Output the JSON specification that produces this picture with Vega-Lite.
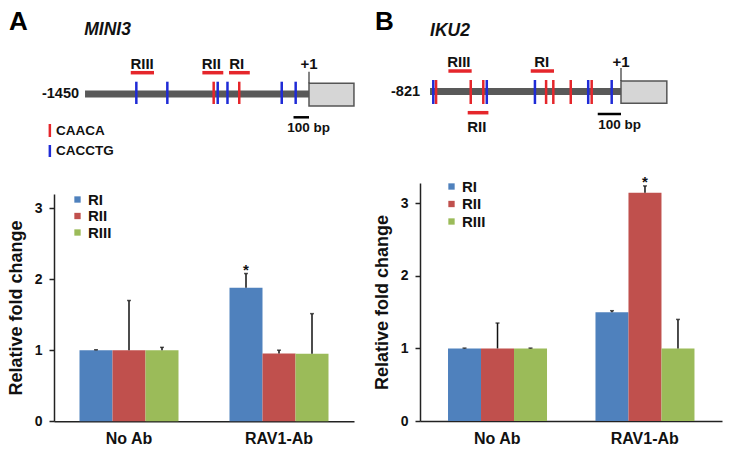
{
  "$schema": "https://vega.github.io/schema/vega-lite/v6.json",
  "background": "white",
  "padding": {"left": 7, "top": 0, "right": 5, "bottom": 5},
  "spacing": 18,
  "config": {
    "view": {"stroke": null},
    "font": "Liberation Sans",
    "text": {"font": "Liberation Sans", "fontWeight": "bold", "color": "#111"},
    "axis": {"labelFont": "Liberation Sans", "titleFont": "Liberation Sans", "grid": false}
  },
  "resolve": {"scale": {"color": "independent"}, "legend": {"color": "independent"}},
  "hconcat": [
    {
      "spacing": 0,
      "bounds": "flush",
      "vconcat": [
        {
          "width": 300,
          "height": 194,
          "layer": [
            {
              "data": {"values": [{"bp": -1445, "bp2": 0}]},
              "mark": {"type": "rule", "strokeWidth": 7, "color": "#595959"},
              "encoding": {
                "x": {"field": "bp", "type": "quantitative", "scale": {"domain": [-1645.2, 290.3], "nice": false, "zero": false}, "axis": null},
                "x2": {"field": "bp2"},
                "y": {"datum": 94, "type": "quantitative", "scale": {"domain": [0, 194], "reverse": true, "nice": false, "zero": false}, "axis": null}
              }
            },
            {
              "data": {"values": [{"bp": 0, "bp2": 290}]},
              "mark": {"type": "rect", "fill": "#d6d6d6", "stroke": "#555555", "strokeWidth": 1.5},
              "encoding": {
                "x": {"field": "bp", "type": "quantitative", "scale": {"domain": [-1645.2, 290.3], "nice": false, "zero": false}, "axis": null},
                "x2": {"field": "bp2"},
                "y": {"datum": 83.3, "type": "quantitative", "scale": {"domain": [0, 194], "reverse": true, "nice": false, "zero": false}, "axis": null},
                "y2": {"datum": 106}
              }
            },
            {
              "data": {"values": [{"bp": 0}]},
              "mark": {"type": "rule", "strokeWidth": 1.2, "color": "#333333"},
              "encoding": {
                "x": {"field": "bp", "type": "quantitative", "scale": {"domain": [-1645.2, 290.3], "nice": false, "zero": false}, "axis": null},
                "y": {"datum": 71.7, "type": "quantitative", "scale": {"domain": [0, 194], "reverse": true, "nice": false, "zero": false}, "axis": null},
                "y2": {"datum": 83.3}
              }
            },
            {
              "data": {"values": [
                {"bp": -1114, "motif": "CACCTG"}, {"bp": -914, "motif": "CACCTG"}, {"bp": -589, "motif": "CACCTG"},
                {"bp": -526, "motif": "CACCTG"}, {"bp": -176, "motif": "CACCTG"}, {"bp": -86, "motif": "CACCTG"},
                {"bp": -615, "motif": "CAACA"}, {"bp": -450, "motif": "CAACA"}
              ]},
              "transform": [{"filter": "datum.motif === 'CACCTG'"}],
              "mark": {"type": "rule", "strokeWidth": 2.5, "color": "#1f2bd6"},
              "encoding": {
                "x": {"field": "bp", "type": "quantitative", "scale": {"domain": [-1645.2, 290.3], "nice": false, "zero": false}, "axis": null},
                "y": {"datum": 81.7, "type": "quantitative", "scale": {"domain": [0, 194], "reverse": true, "nice": false, "zero": false}, "axis": null},
                "y2": {"datum": 104}
              }
            },
            {
              "data": {"values": [
                {"bp": -1114, "motif": "CACCTG"}, {"bp": -914, "motif": "CACCTG"}, {"bp": -589, "motif": "CACCTG"},
                {"bp": -526, "motif": "CACCTG"}, {"bp": -176, "motif": "CACCTG"}, {"bp": -86, "motif": "CACCTG"},
                {"bp": -615, "motif": "CAACA"}, {"bp": -450, "motif": "CAACA"}
              ]},
              "transform": [{"filter": "datum.motif === 'CAACA'"}],
              "mark": {"type": "rule", "strokeWidth": 2.5, "color": "#e5262b"},
              "encoding": {
                "x": {"field": "bp", "type": "quantitative", "scale": {"domain": [-1645.2, 290.3], "nice": false, "zero": false}, "axis": null},
                "y": {"datum": 81.7, "type": "quantitative", "scale": {"domain": [0, 194], "reverse": true, "nice": false, "zero": false}, "axis": null},
                "y2": {"datum": 104}
              }
            },
            {
              "data": {"values": [
                {"region": "RIII", "bp": -1150, "bp2": -1000},
                {"region": "RII", "bp": -688, "bp2": -553},
                {"region": "RI", "bp": -516, "bp2": -382}
              ]},
              "mark": {"type": "rule", "strokeWidth": 3.5, "color": "#e5262b"},
              "encoding": {
                "x": {"field": "bp", "type": "quantitative", "scale": {"domain": [-1645.2, 290.3], "nice": false, "zero": false}, "axis": null},
                "x2": {"field": "bp2"},
                "y": {"datum": 72.7, "type": "quantitative", "scale": {"domain": [0, 194], "reverse": true, "nice": false, "zero": false}, "axis": null}
              }
            },
            {
              "data": {"values": [
                {"label": "RIII", "bp": -1077},
                {"label": "RII", "bp": -630},
                {"label": "RI", "bp": -466},
                {"label": "+1", "bp": 0}
              ]},
              "mark": {"type": "text", "fontSize": 15, "baseline": "middle", "align": "center"},
              "encoding": {
                "x": {"field": "bp", "type": "quantitative", "scale": {"domain": [-1645.2, 290.3], "nice": false, "zero": false}, "axis": null},
                "y": {"datum": 63.5, "type": "quantitative", "scale": {"domain": [0, 194], "reverse": true, "nice": false, "zero": false}, "axis": null},
                "text": {"field": "label"}
              }
            },
            {
              "data": {"values": [{"label": "-1450", "bp": -1445}]},
              "mark": {"type": "text", "fontSize": 14.5, "baseline": "middle", "align": "right", "dx": -6},
              "encoding": {
                "x": {"field": "bp", "type": "quantitative", "scale": {"domain": [-1645.2, 290.3], "nice": false, "zero": false}, "axis": null},
                "y": {"datum": 94, "type": "quantitative", "scale": {"domain": [0, 194], "reverse": true, "nice": false, "zero": false}, "axis": null},
                "text": {"field": "label"}
              }
            },
            {
              "data": {"values": [{"label": "MINI3", "bp": -1450}]},
              "mark": {"type": "text", "fontSize": 17.5, "fontStyle": "italic", "baseline": "middle", "align": "left"},
              "encoding": {
                "x": {"field": "bp", "type": "quantitative", "scale": {"domain": [-1645.2, 290.3], "nice": false, "zero": false}, "axis": null},
                "y": {"datum": 30, "type": "quantitative", "scale": {"domain": [0, 194], "reverse": true, "nice": false, "zero": false}, "axis": null},
                "text": {"field": "label"}
              }
            },
            {
              "data": {"values": [{"label": "A", "bp": -1935}]},
              "mark": {"type": "text", "fontSize": 26, "baseline": "middle", "align": "left", "color": "#000"},
              "encoding": {
                "x": {"field": "bp", "type": "quantitative", "scale": {"domain": [-1645.2, 290.3], "nice": false, "zero": false}, "axis": null},
                "y": {"datum": 22, "type": "quantitative", "scale": {"domain": [0, 194], "reverse": true, "nice": false, "zero": false}, "axis": null},
                "text": {"field": "label"}
              }
            },
            {
              "data": {"values": [{"bp": -100, "bp2": 0}]},
              "mark": {"type": "rule", "strokeWidth": 2.5, "color": "#000"},
              "encoding": {
                "x": {"field": "bp", "type": "quantitative", "scale": {"domain": [-1645.2, 290.3], "nice": false, "zero": false}, "axis": null},
                "x2": {"field": "bp2"},
                "y": {"datum": 117.3, "type": "quantitative", "scale": {"domain": [0, 194], "reverse": true, "nice": false, "zero": false}, "axis": null}
              }
            },
            {
              "data": {"values": [{"label": "100 bp", "bp": -140}]},
              "mark": {"type": "text", "fontSize": 13.5, "baseline": "middle", "align": "left"},
              "encoding": {
                "x": {"field": "bp", "type": "quantitative", "scale": {"domain": [-1645.2, 290.3], "nice": false, "zero": false}, "axis": null},
                "y": {"datum": 128, "type": "quantitative", "scale": {"domain": [0, 194], "reverse": true, "nice": false, "zero": false}, "axis": null},
                "text": {"field": "label"}
              }
            },
            {
              "data": {"values": [{"bp": -1672}]},
              "mark": {"type": "rule", "strokeWidth": 2.5, "color": "#e5262b"},
              "encoding": {
                "x": {"field": "bp", "type": "quantitative", "scale": {"domain": [-1645.2, 290.3], "nice": false, "zero": false}, "axis": null},
                "y": {"datum": 124, "type": "quantitative", "scale": {"domain": [0, 194], "reverse": true, "nice": false, "zero": false}, "axis": null},
                "y2": {"datum": 137}
              }
            },
            {
              "data": {"values": [{"bp": -1672}]},
              "mark": {"type": "rule", "strokeWidth": 2.5, "color": "#1f2bd6"},
              "encoding": {
                "x": {"field": "bp", "type": "quantitative", "scale": {"domain": [-1645.2, 290.3], "nice": false, "zero": false}, "axis": null},
                "y": {"datum": 145, "type": "quantitative", "scale": {"domain": [0, 194], "reverse": true, "nice": false, "zero": false}, "axis": null},
                "y2": {"datum": 157}
              }
            },
            {
              "data": {"values": [{"label": "CAACA", "bp": -1632}]},
              "mark": {"type": "text", "fontSize": 13.5, "baseline": "middle", "align": "left"},
              "encoding": {
                "x": {"field": "bp", "type": "quantitative", "scale": {"domain": [-1645.2, 290.3], "nice": false, "zero": false}, "axis": null},
                "y": {"datum": 131, "type": "quantitative", "scale": {"domain": [0, 194], "reverse": true, "nice": false, "zero": false}, "axis": null},
                "text": {"field": "label"}
              }
            },
            {
              "data": {"values": [{"label": "CACCTG", "bp": -1632}]},
              "mark": {"type": "text", "fontSize": 13.5, "baseline": "middle", "align": "left"},
              "encoding": {
                "x": {"field": "bp", "type": "quantitative", "scale": {"domain": [-1645.2, 290.3], "nice": false, "zero": false}, "axis": null},
                "y": {"datum": 151, "type": "quantitative", "scale": {"domain": [0, 194], "reverse": true, "nice": false, "zero": false}, "axis": null},
                "text": {"field": "label"}
              }
            }
          ]
        },
        {
          "width": 300,
          "height": 227.2,
          "data": {"values": [
            {"group": "No Ab", "region": "RI", "value": 1.0, "upper": 1.006, "star": ""},
            {"group": "No Ab", "region": "RII", "value": 1.0, "upper": 1.70, "star": ""},
            {"group": "No Ab", "region": "RIII", "value": 1.0, "upper": 1.04, "star": ""},
            {"group": "RAV1-Ab", "region": "RI", "value": 1.88, "upper": 2.08, "star": "*"},
            {"group": "RAV1-Ab", "region": "RII", "value": 0.955, "upper": 1.0, "star": ""},
            {"group": "RAV1-Ab", "region": "RIII", "value": 0.95, "upper": 1.515, "star": ""}
          ]},
          "encoding": {
            "x": {"field": "group", "type": "nominal", "sort": ["No Ab", "RAV1-Ab"], "scale": {"paddingInner": 0.34, "paddingOuter": 0.17},
              "axis": {"title": null, "labelAngle": 0, "ticks": false, "domainColor": "#222", "domainWidth": 1.5, "labelFontSize": 16, "labelFontWeight": "bold", "labelColor": "#111", "labelPadding": 9}},
            "xOffset": {"field": "region", "type": "nominal", "sort": ["RI", "RII", "RIII"], "scale": {"paddingInner": 0, "paddingOuter": 0}}
          },
          "layer": [
            {
              "mark": {"type": "bar"},
              "encoding": {
                "y": {"field": "value", "type": "quantitative", "scale": {"domain": [0, 3.2], "nice": false},
                  "axis": {"title": "Relative fold change", "values": [0, 1, 2, 3], "format": "d", "tickSize": 5, "tickWidth": 1.5, "tickColor": "#222", "domainColor": "#222", "domainWidth": 1.5, "labelFontSize": 14, "labelFontWeight": "bold", "labelColor": "#111", "labelPadding": 7, "titleFontSize": 18, "titleFontWeight": "bold", "titleColor": "#111", "titlePadding": 9}},
                "color": {"field": "region", "type": "nominal", "sort": ["RI", "RII", "RIII"],
                  "scale": {"domain": ["RI", "RII", "RIII"], "range": ["#4f81bd", "#c0504d", "#9bbb59"]},
                  "legend": {"title": null, "orient": "none", "legendX": 16, "legendY": 192, "symbolType": "square", "symbolSize": 40, "symbolStrokeWidth": 0, "labelFontSize": 15, "labelFontWeight": "bold", "labelColor": "#111", "labelFont": "Liberation Sans", "labelOffset": 3, "rowPadding": 0.5, "padding": 0}}
              }
            },
            {
              "mark": {"type": "rule", "strokeWidth": 1.5, "color": "#111"},
              "encoding": {
                "y": {"field": "value", "type": "quantitative"},
                "y2": {"field": "upper"}
              }
            },
            {
              "mark": {"type": "tick", "thickness": 1.5, "size": 4, "color": "#111"},
              "encoding": {
                "y": {"field": "upper", "type": "quantitative"}
              }
            },
            {
              "mark": {"type": "text", "fontSize": 15, "baseline": "alphabetic", "dy": 1},
              "encoding": {
                "y": {"field": "upper", "type": "quantitative"},
                "text": {"field": "star"}
              }
            }
          ]
        }
      ]
    },
    {
      "spacing": 0,
      "bounds": "flush",
      "vconcat": [
        {
          "width": 302,
          "height": 183,
          "layer": [
            {
              "data": {"values": [{"bp": -821, "bp2": 0}]},
              "mark": {"type": "rule", "strokeWidth": 7, "color": "#595959"},
              "encoding": {
                "x": {"field": "bp", "type": "quantitative", "scale": {"domain": [-864.1, 434.2], "nice": false, "zero": false}, "axis": null},
                "x2": {"field": "bp2"},
                "y": {"datum": 91.5, "type": "quantitative", "scale": {"domain": [0, 183], "reverse": true, "nice": false, "zero": false}, "axis": null}
              }
            },
            {
              "data": {"values": [{"bp": 0, "bp2": 197}]},
              "mark": {"type": "rect", "fill": "#d6d6d6", "stroke": "#555555", "strokeWidth": 1.5},
              "encoding": {
                "x": {"field": "bp", "type": "quantitative", "scale": {"domain": [-864.1, 434.2], "nice": false, "zero": false}, "axis": null},
                "x2": {"field": "bp2"},
                "y": {"datum": 81, "type": "quantitative", "scale": {"domain": [0, 183], "reverse": true, "nice": false, "zero": false}, "axis": null},
                "y2": {"datum": 103.3}
              }
            },
            {
              "data": {"values": [{"bp": 0}]},
              "mark": {"type": "rule", "strokeWidth": 1.2, "color": "#333333"},
              "encoding": {
                "x": {"field": "bp", "type": "quantitative", "scale": {"domain": [-864.1, 434.2], "nice": false, "zero": false}, "axis": null},
                "y": {"datum": 68, "type": "quantitative", "scale": {"domain": [0, 183], "reverse": true, "nice": false, "zero": false}, "axis": null},
                "y2": {"datum": 81}
              }
            },
            {
              "data": {"values": [
                {"bp": -807, "motif": "CACCTG"}, {"bp": -577, "motif": "CACCTG"}, {"bp": -370, "motif": "CACCTG"},
                {"bp": -141, "motif": "CACCTG"}, {"bp": -40, "motif": "CACCTG"},
                {"bp": -795, "motif": "CAACA"}, {"bp": -646, "motif": "CAACA"}, {"bp": -592, "motif": "CAACA"},
                {"bp": -322, "motif": "CAACA"}, {"bp": -291, "motif": "CAACA"}, {"bp": -216, "motif": "CAACA"}, {"bp": -126, "motif": "CAACA"}
              ]},
              "transform": [{"filter": "datum.motif === 'CACCTG'"}],
              "mark": {"type": "rule", "strokeWidth": 2.5, "color": "#1f2bd6"},
              "encoding": {
                "x": {"field": "bp", "type": "quantitative", "scale": {"domain": [-864.1, 434.2], "nice": false, "zero": false}, "axis": null},
                "y": {"datum": 80, "type": "quantitative", "scale": {"domain": [0, 183], "reverse": true, "nice": false, "zero": false}, "axis": null},
                "y2": {"datum": 104}
              }
            },
            {
              "data": {"values": [
                {"bp": -807, "motif": "CACCTG"}, {"bp": -577, "motif": "CACCTG"}, {"bp": -370, "motif": "CACCTG"},
                {"bp": -141, "motif": "CACCTG"}, {"bp": -40, "motif": "CACCTG"},
                {"bp": -795, "motif": "CAACA"}, {"bp": -646, "motif": "CAACA"}, {"bp": -592, "motif": "CAACA"},
                {"bp": -322, "motif": "CAACA"}, {"bp": -291, "motif": "CAACA"}, {"bp": -216, "motif": "CAACA"}, {"bp": -126, "motif": "CAACA"}
              ]},
              "transform": [{"filter": "datum.motif === 'CAACA'"}],
              "mark": {"type": "rule", "strokeWidth": 2.5, "color": "#e5262b"},
              "encoding": {
                "x": {"field": "bp", "type": "quantitative", "scale": {"domain": [-864.1, 434.2], "nice": false, "zero": false}, "axis": null},
                "y": {"datum": 80, "type": "quantitative", "scale": {"domain": [0, 183], "reverse": true, "nice": false, "zero": false}, "axis": null},
                "y2": {"datum": 104}
              }
            },
            {
              "data": {"values": [
                {"region": "RIII", "bp": -742, "bp2": -642},
                {"region": "RI", "bp": -388, "bp2": -288}
              ]},
              "mark": {"type": "rule", "strokeWidth": 3.5, "color": "#e5262b"},
              "encoding": {
                "x": {"field": "bp", "type": "quantitative", "scale": {"domain": [-864.1, 434.2], "nice": false, "zero": false}, "axis": null},
                "x2": {"field": "bp2"},
                "y": {"datum": 71, "type": "quantitative", "scale": {"domain": [0, 183], "reverse": true, "nice": false, "zero": false}, "axis": null}
              }
            },
            {
              "data": {"values": [{"region": "RII", "bp": -659, "bp2": -570}]},
              "mark": {"type": "rule", "strokeWidth": 3.5, "color": "#e5262b"},
              "encoding": {
                "x": {"field": "bp", "type": "quantitative", "scale": {"domain": [-864.1, 434.2], "nice": false, "zero": false}, "axis": null},
                "x2": {"field": "bp2"},
                "y": {"datum": 112.7, "type": "quantitative", "scale": {"domain": [0, 183], "reverse": true, "nice": false, "zero": false}, "axis": null}
              }
            },
            {
              "data": {"values": [
                {"label": "RIII", "bp": -697},
                {"label": "RI", "bp": -341},
                {"label": "+1", "bp": 0}
              ]},
              "mark": {"type": "text", "fontSize": 15, "baseline": "middle", "align": "center"},
              "encoding": {
                "x": {"field": "bp", "type": "quantitative", "scale": {"domain": [-864.1, 434.2], "nice": false, "zero": false}, "axis": null},
                "y": {"datum": 62, "type": "quantitative", "scale": {"domain": [0, 183], "reverse": true, "nice": false, "zero": false}, "axis": null},
                "text": {"field": "label"}
              }
            },
            {
              "data": {"values": [{"label": "RII", "bp": -620}]},
              "mark": {"type": "text", "fontSize": 15, "baseline": "middle", "align": "center"},
              "encoding": {
                "x": {"field": "bp", "type": "quantitative", "scale": {"domain": [-864.1, 434.2], "nice": false, "zero": false}, "axis": null},
                "y": {"datum": 127, "type": "quantitative", "scale": {"domain": [0, 183], "reverse": true, "nice": false, "zero": false}, "axis": null},
                "text": {"field": "label"}
              }
            },
            {
              "data": {"values": [{"label": "-821", "bp": -821}]},
              "mark": {"type": "text", "fontSize": 14.5, "baseline": "middle", "align": "right", "dx": -10},
              "encoding": {
                "x": {"field": "bp", "type": "quantitative", "scale": {"domain": [-864.1, 434.2], "nice": false, "zero": false}, "axis": null},
                "y": {"datum": 92, "type": "quantitative", "scale": {"domain": [0, 183], "reverse": true, "nice": false, "zero": false}, "axis": null},
                "text": {"field": "label"}
              }
            },
            {
              "data": {"values": [{"label": "IKU2", "bp": -821}]},
              "mark": {"type": "text", "fontSize": 17.5, "fontStyle": "italic", "baseline": "middle", "align": "left"},
              "encoding": {
                "x": {"field": "bp", "type": "quantitative", "scale": {"domain": [-864.1, 434.2], "nice": false, "zero": false}, "axis": null},
                "y": {"datum": 31, "type": "quantitative", "scale": {"domain": [0, 183], "reverse": true, "nice": false, "zero": false}, "axis": null},
                "text": {"field": "label"}
              }
            },
            {
              "data": {"values": [{"label": "B", "bp": -1058}]},
              "mark": {"type": "text", "fontSize": 26, "baseline": "middle", "align": "left", "color": "#000"},
              "encoding": {
                "x": {"field": "bp", "type": "quantitative", "scale": {"domain": [-864.1, 434.2], "nice": false, "zero": false}, "axis": null},
                "y": {"datum": 22, "type": "quantitative", "scale": {"domain": [0, 183], "reverse": true, "nice": false, "zero": false}, "axis": null},
                "text": {"field": "label"}
              }
            },
            {
              "data": {"values": [{"bp": -100, "bp2": 0}]},
              "mark": {"type": "rule", "strokeWidth": 2.5, "color": "#000"},
              "encoding": {
                "x": {"field": "bp", "type": "quantitative", "scale": {"domain": [-864.1, 434.2], "nice": false, "zero": false}, "axis": null},
                "x2": {"field": "bp2"},
                "y": {"datum": 114, "type": "quantitative", "scale": {"domain": [0, 183], "reverse": true, "nice": false, "zero": false}, "axis": null}
              }
            },
            {
              "data": {"values": [{"label": "100 bp", "bp": -98}]},
              "mark": {"type": "text", "fontSize": 13.5, "baseline": "middle", "align": "left"},
              "encoding": {
                "x": {"field": "bp", "type": "quantitative", "scale": {"domain": [-864.1, 434.2], "nice": false, "zero": false}, "axis": null},
                "y": {"datum": 124.5, "type": "quantitative", "scale": {"domain": [0, 183], "reverse": true, "nice": false, "zero": false}, "axis": null},
                "text": {"field": "label"}
              }
            }
          ]
        },
        {
          "width": 302,
          "height": 238,
          "data": {"values": [
            {"group": "No Ab", "region": "RI", "value": 1.0, "upper": 1.005, "star": ""},
            {"group": "No Ab", "region": "RII", "value": 1.0, "upper": 1.35, "star": ""},
            {"group": "No Ab", "region": "RIII", "value": 1.0, "upper": 1.005, "star": ""},
            {"group": "RAV1-Ab", "region": "RI", "value": 1.5, "upper": 1.52, "star": ""},
            {"group": "RAV1-Ab", "region": "RII", "value": 3.145, "upper": 3.24, "star": "*"},
            {"group": "RAV1-Ab", "region": "RIII", "value": 1.0, "upper": 1.40, "star": ""}
          ]},
          "encoding": {
            "x": {"field": "group", "type": "nominal", "sort": ["No Ab", "RAV1-Ab"], "scale": {"paddingInner": 0.332, "paddingOuter": 0.19},
              "axis": {"title": null, "labelAngle": 0, "ticks": false, "domainColor": "#222", "domainWidth": 1.5, "labelFontSize": 16, "labelFontWeight": "bold", "labelColor": "#111", "labelPadding": 9}},
            "xOffset": {"field": "region", "type": "nominal", "sort": ["RI", "RII", "RIII"], "scale": {"paddingInner": 0, "paddingOuter": 0}}
          },
          "layer": [
            {
              "mark": {"type": "bar"},
              "encoding": {
                "y": {"field": "value", "type": "quantitative", "scale": {"domain": [0, 3.28], "nice": false},
                  "axis": {"title": "Relative fold change", "values": [0, 1, 2, 3], "format": "d", "tickSize": 5, "tickWidth": 1.5, "tickColor": "#222", "domainColor": "#222", "domainWidth": 1.5, "labelFontSize": 14, "labelFontWeight": "bold", "labelColor": "#111", "labelPadding": 7, "titleFontSize": 18, "titleFontWeight": "bold", "titleColor": "#111", "titlePadding": 9}},
                "color": {"field": "region", "type": "nominal", "sort": ["RI", "RII", "RIII"],
                  "scale": {"domain": ["RI", "RII", "RIII"], "range": ["#4f81bd", "#c0504d", "#9bbb59"]},
                  "legend": {"title": null, "orient": "none", "legendX": 24, "legendY": 179, "symbolType": "square", "symbolSize": 40, "symbolStrokeWidth": 0, "labelFontSize": 15, "labelFontWeight": "bold", "labelColor": "#111", "labelFont": "Liberation Sans", "labelOffset": 3, "rowPadding": 1.5, "padding": 0}}
              }
            },
            {
              "mark": {"type": "rule", "strokeWidth": 1.5, "color": "#111"},
              "encoding": {
                "y": {"field": "value", "type": "quantitative"},
                "y2": {"field": "upper"}
              }
            },
            {
              "mark": {"type": "tick", "thickness": 1.5, "size": 4, "color": "#111"},
              "encoding": {
                "y": {"field": "upper", "type": "quantitative"}
              }
            },
            {
              "mark": {"type": "text", "fontSize": 15, "baseline": "alphabetic", "dy": 1},
              "encoding": {
                "y": {"field": "upper", "type": "quantitative"},
                "text": {"field": "star"}
              }
            }
          ]
        }
      ]
    }
  ]
}
